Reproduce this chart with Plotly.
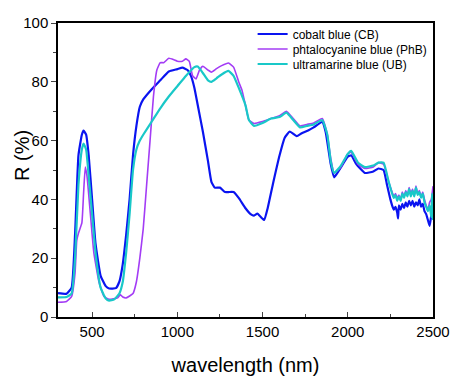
import plotly.graph_objects as go

# ---- data ----
cb_wl = [300, 350, 380, 400, 420, 440, 450, 465, 480, 500, 520, 550, 580, 600, 640, 660, 680, 700, 720, 740,
         760, 780, 800, 850, 900, 950, 1000, 1030, 1060, 1080, 1100, 1120, 1150, 1180, 1200, 1220, 1250, 1280,
         1300, 1330, 1360, 1400, 1430, 1450, 1470, 1490, 1510, 1530, 1560, 1600, 1630, 1660, 1700, 1730, 1770,
         1800, 1850, 1870, 1900, 1920, 1950, 2000, 2020, 2050, 2100, 2150, 2180, 2210, 2230, 2250,
         2260, 2270, 2280, 2290, 2295, 2300, 2310, 2320, 2330, 2340, 2350, 2360, 2370, 2380, 2390, 2400,
         2410, 2420, 2430, 2440, 2450, 2460, 2470, 2480, 2490, 2500]
cb_r = [8.1, 7.9, 10, 28, 55, 62, 63.4, 62, 55, 40, 25, 14, 10.5, 9.7, 9.8, 12, 18, 28, 40, 55,
        65, 71.5, 74, 77.5, 80.5, 83.5, 84.3, 84.8, 84, 82, 78, 72, 63, 53, 46, 44, 44, 42.5,
        42.5, 42.5, 40.5, 37, 35, 34.5, 35.2, 34, 33, 37, 45, 55, 61, 63.1, 61.5, 62.5, 63.5,
        64.5, 66.3, 63, 52, 47.5, 50, 54.5, 55, 52, 49, 49.5, 50.5, 50, 45, 40,
        38, 36.5, 37.5, 35.5, 33.5, 38, 36.5, 38.5, 37, 39, 37.5, 39.5, 38, 39.5, 37.5, 39,
        38, 40, 37.5, 38.5, 36, 35, 33, 31, 34.5, 36]

phb_wl = [300, 350, 380, 400, 410, 420, 440, 450, 460, 470, 490, 510, 540, 570, 600, 650, 665, 680, 700,
          740, 760, 780, 800, 820, 840, 860, 880, 900, 920, 950, 980, 1000, 1030, 1050, 1070, 1090, 1110,
          1130, 1150, 1180, 1200, 1230, 1260, 1300, 1330, 1360, 1380, 1400, 1420, 1450, 1500, 1550, 1600,
          1640, 1680, 1720, 1760, 1800, 1850, 1880, 1900, 1920, 1960, 2000, 2020, 2060, 2100, 2150, 2180,
          2210, 2240, 2260, 2270, 2280, 2290, 2300, 2310, 2320, 2330, 2340, 2350, 2360, 2370, 2380, 2390,
          2400, 2410, 2420, 2430, 2440, 2450, 2460, 2470, 2480, 2490, 2500]
phb_r = [5, 5.3, 7, 15, 26, 28.5, 32, 42, 51, 48, 35, 22, 12, 7, 6, 6.5, 7.6, 6.8, 6.5,
         8, 12, 20, 30, 45, 60, 75, 84, 86.5, 86.5, 88, 87.5, 87, 87, 87.8, 87, 82, 81,
         84, 85.3, 84, 83.3, 84.5, 85.5, 86.4, 85, 80, 77, 72, 67, 65.8, 66.5, 67.5, 68.5,
         70, 67.5, 65, 65.5, 66, 67.5, 62, 54, 49, 51, 55.5, 56, 52, 50.5, 51, 52.5,
         52, 46, 42.5, 41, 42, 40.5, 41.5, 40, 42.5, 41, 43, 41.5, 44, 42, 43.5, 41.5,
         44.5, 42, 43, 41, 42.5, 40, 38, 36.5, 39, 40, 44.5]

ub_wl = [300, 350, 380, 400, 420, 440, 450, 465, 480, 500, 520, 550, 580, 600, 630, 660, 680, 700, 720,
         740, 760, 780, 800, 850, 900, 950, 1000, 1050, 1100, 1120, 1150, 1180, 1200, 1230, 1260, 1300,
         1330, 1360, 1400, 1420, 1450, 1500, 1550, 1600, 1640, 1680, 1720, 1760, 1800, 1850, 1880, 1900,
         1920, 1960, 2000, 2020, 2060, 2100, 2150, 2180, 2210, 2240, 2260, 2270, 2280, 2290, 2300, 2310,
         2320, 2330, 2340, 2350, 2360, 2370, 2380, 2390, 2400, 2410, 2420, 2430, 2440, 2450, 2460, 2470,
         2480, 2490, 2495, 2500]
ub_r = [6.7, 6.8, 8, 20, 45, 57, 59, 57, 48, 35, 22, 10, 6.3, 5.6, 6, 8, 12, 22, 35,
        50, 57, 60, 62, 66.5, 71, 75, 78.5, 82, 85, 85.2, 83, 80.5, 80, 81.2, 82.5, 83.7,
        82, 78, 72, 67, 65, 66, 67.5, 68, 69.5, 67, 64.5, 65, 65.5, 67, 62, 53,
        49, 51.5, 55.5, 56.5, 52.5, 51, 51.5, 52.5, 52.5, 46, 42, 40.5, 41.5, 39.5, 41, 39.5,
        42, 40.5, 42.5, 41, 43.5, 41, 43, 41, 44, 41.5, 42.5, 40.5, 42, 39, 37.5, 36,
        38, 34, 42, 33]

names = ["cobalt blue (CB)", "phtalocyanine blue (PhB)", "ultramarine blue (UB)"]
colors = ["#0a14f0", "#a33cf5", "#19c8c8"]
widths = [2.2, 1.6, 2.2]
legend_ids = ["legend", "legend2", "legend3"]
legend_y = [0.9626, 0.9116, 0.8605]

fig = go.Figure()
for wl, r, n, c, w, lg in zip([cb_wl, phb_wl, ub_wl], [cb_r, phb_r, ub_r], names, colors, widths, legend_ids):
    fig.add_trace(go.Scatter(x=wl, y=r, mode="lines", name=n, legend=lg,
                             line=dict(color=c, width=w, shape="spline", smoothing=0.4)))

legend_style = dict(x=0.519, xanchor="left", yanchor="middle", bgcolor="rgba(0,0,0,0)",
                    font=dict(size=12), itemwidth=30)
fig.update_layout(
    width=452, height=376,
    margin=dict(l=58, r=19, t=23, b=59, autoexpand=False),
    paper_bgcolor="white", plot_bgcolor="white",
    font=dict(family="Liberation Sans, Arial, sans-serif", color="black"),
    showlegend=True,
    legend=dict(y=legend_y[0], **legend_style),
    legend2=dict(y=legend_y[1], **legend_style),
    legend3=dict(y=legend_y[2], **legend_style),
)
fig.update_xaxes(range=[300, 2500], tickvals=[500, 1000, 1500, 2000, 2500],
                 ticks="inside", ticklen=5, tickwidth=1.3, tickcolor="#444", automargin=False,
                 minor=dict(tickvals=[750, 1250, 1750, 2250], ticks="inside", ticklen=3, tickcolor="#444"),
                 showline=True, linecolor="black", linewidth=1.5, mirror=True,
                 showgrid=False, zeroline=False, tickfont=dict(size=15),
                 title=dict(text="wavelength (nm)", font=dict(size=20), standoff=22))
fig.update_yaxes(range=[0, 100], tickvals=[0, 20, 40, 60, 80, 100],
                 ticks="outside", ticklen=5, tickwidth=1.3, tickcolor="#444", automargin=False,
                 minor=dict(tickvals=[10, 30, 50, 70, 90], ticks="outside", ticklen=3, tickcolor="#444"),
                 showline=True, linecolor="black", linewidth=1.5, mirror=True,
                 showgrid=False, zeroline=False, tickfont=dict(size=15))
fig.add_annotation(text="R (%)", xref="paper", yref="paper", x=-0.096, y=0.548,
                   textangle=-90, showarrow=False, xanchor="center", yanchor="middle",
                   font=dict(size=20))

fig.write_html("out.html")
